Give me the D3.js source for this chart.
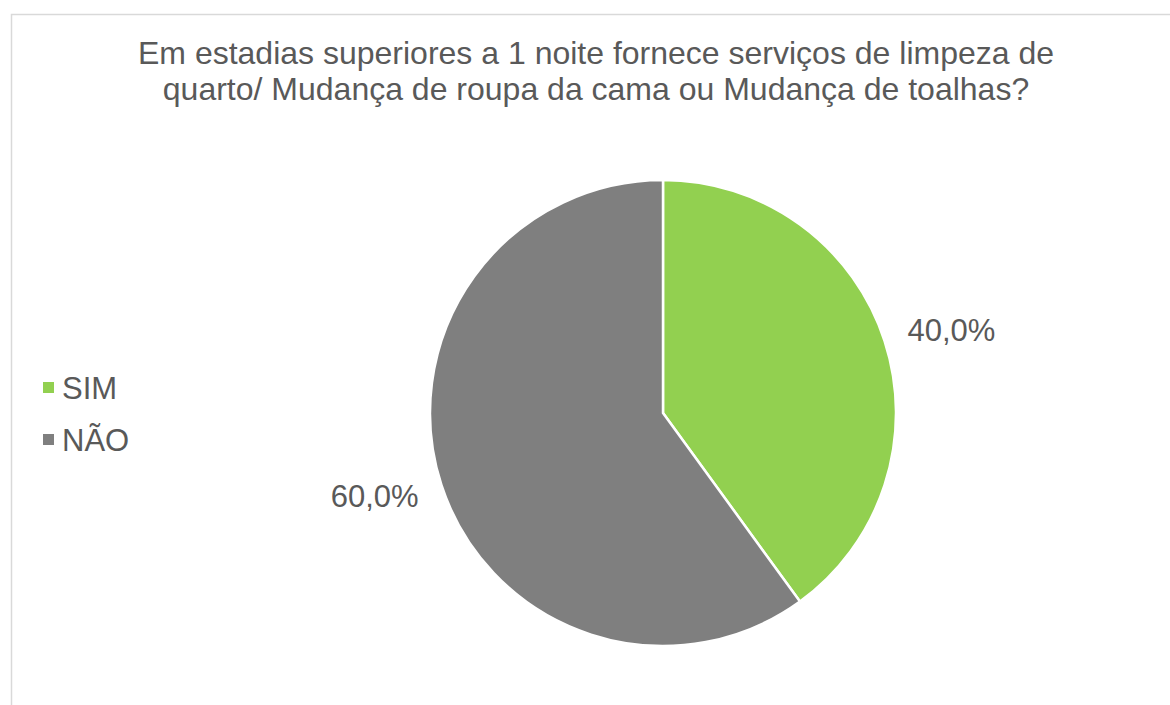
<!DOCTYPE html>
<html>
<head>
<meta charset="utf-8">
<script src="https://cdn.jsdelivr.net/npm/d3@7"></script>
<style>
  body { margin: 0; background: #fff; overflow: hidden; }
  text { font-family: Arial, "Liberation Sans", sans-serif; fill: #595959; }
</style>
</head>
<body>
<div id="chart"></div>
<script>
const categories = ["SIM", "NÃO"];
const values = [40.0, 60.0];
const colors = ["#92D050", "#7F7F7F"];
const titleLines = [
  "Em estadias superiores a 1 noite fornece serviços de limpeza de",
  "quarto/ Mudança de roupa da cama ou Mudança de toalhas?",
];

const width = 1170,
  height = 705;
const cx = 663,
  cy = 413,
  radius = 233,
  labelRadius = 300;

const svg = d3
  .select("#chart")
  .append("svg")
  .attr("width", width)
  .attr("height", height);

// chart frame (runs off the right and bottom edges)
svg
  .append("rect")
  .attr("x", 11.5)
  .attr("y", 14.5)
  .attr("width", 1300)
  .attr("height", 900)
  .attr("fill", "none")
  .attr("stroke", "#D9D9D9")
  .attr("stroke-width", 1.5);

svg
  .selectAll(".title")
  .data(titleLines)
  .enter()
  .append("text")
  .attr("class", "title")
  .attr("x", 596)
  .attr("y", (d, i) => 64 + i * 36)
  .attr("text-anchor", "middle")
  .style("font-size", "32px")
  .text((d) => d);

const pie = d3.pie().sort(null).value((d) => d);
const arcs = pie(values);
const arc = d3.arc().innerRadius(0).outerRadius(radius);

const g = svg.append("g").attr("transform", `translate(${cx},${cy})`);

g.selectAll(".slice")
  .data(arcs)
  .enter()
  .append("path")
  .attr("class", "slice")
  .attr("d", arc)
  .attr("fill", (d, i) => colors[i])
  .attr("stroke", "#fff")
  .attr("stroke-width", 2.5)
  .attr("stroke-linejoin", "round");

const fmt = (v) => v.toFixed(1).replace(".", ",") + "%";

// labels sit just outside the slices, nudged a little clockwise like Excel's best fit
const labelPos = (d) => {
  const a = (d.startAngle + d.endAngle) / 2 + 0.035;
  return [labelRadius * Math.sin(a), -labelRadius * Math.cos(a)];
};

g.selectAll(".label")
  .data(arcs)
  .enter()
  .append("text")
  .attr("class", "label")
  .attr("transform", (d) => `translate(${labelPos(d)})`)
  .attr("text-anchor", "middle")
  .attr("dy", "0.35em")
  .style("font-size", "31px")
  .text((d) => fmt(d.data));

const legend = svg
  .selectAll(".legend")
  .data(categories)
  .enter()
  .append("g")
  .attr("class", "legend")
  .attr("transform", (d, i) => `translate(43,${382 + i * 52})`);

legend
  .append("rect")
  .attr("width", 11)
  .attr("height", 11)
  .attr("fill", (d, i) => colors[i]);

legend
  .append("text")
  .attr("x", 19)
  .attr("y", 17)
  .style("font-size", "31px")
  .text((d) => d);
</script>
</body>
</html>
